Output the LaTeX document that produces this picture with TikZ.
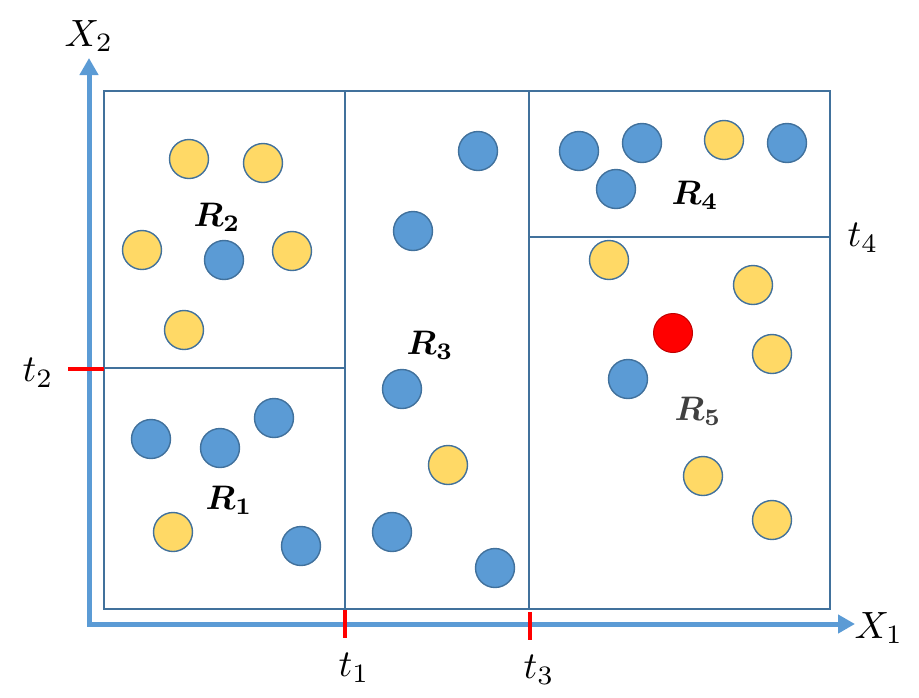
\documentclass[tikz,border=0pt]{standalone}
\usepackage{graphicx}
\usepackage{bm}
\usetikzlibrary{arrows.meta}
\definecolor{axisblue}{HTML}{5B9BD5}
\definecolor{edgeblue}{HTML}{41719C}
\definecolor{dotblue}{HTML}{5B9BD5}
\definecolor{dotyellow}{HTML}{FFD966}
\definecolor{dotred}{HTML}{FF0000}
\definecolor{edgered}{HTML}{C00000}
\tikzset{
  dot/.style={circle,minimum size=39pt,inner sep=0pt,line width=1.4pt,draw=edgeblue},
  bdot/.style={dot,fill=dotblue},
  ydot/.style={dot,fill=dotyellow},
  rdot/.style={dot,fill=dotred,draw=edgered,line width=1pt},
  region/.style={draw=edgeblue,line width=1.8pt},
  axisline/.style={draw=axisblue,line width=5pt,line join=miter,{Triangle[length=17pt,width=18pt]}-{Triangle[length=17pt,width=18pt]}},
  tick/.style={draw=dotred,line width=4pt},
  axlabel/.style={inner sep=0pt},
  rlabel/.style={inner sep=0pt},
}
\newcommand{\bigmath}[1]{\scalebox{3.8}{$#1$}}
\newcommand{\regmath}[2]{\scalebox{3.4}{\textcolor{#2}{$\bm{#1}$}}}
\begin{document}
\begin{tikzpicture}[x=1pt,y=-1pt]
\useasboundingbox (0,0) rectangle (919,697);
% regions
\draw[region] (104,91) rectangle (830,609);
\draw[region] (345,91) -- (345,609);
\draw[region] (529,91) -- (529,609);
\draw[region] (104,368) -- (345,368);
\draw[region] (529,237) -- (830,237);
% axes
\coordinate (ytip) at (89,58);
\coordinate (origin) at (89,624);
\coordinate (xtip) at (855,624);
\draw[axisline] (ytip) -- (origin) -- (xtip);
% ticks
\coordinate (t1a) at (345,610); \coordinate (t1b) at (345,638);
\coordinate (t3a) at (530,612); \coordinate (t3b) at (530,640);
\coordinate (t2a) at (68,369); \coordinate (t2b) at (104,369);
\draw[tick] (t1a) -- (t1b);
\draw[tick] (t3a) -- (t3b);
\draw[tick] (t2a) -- (t2b);
% axis labels
\node[axlabel] (lx2) at (89,36) {\bigmath{X_2}};
\node[axlabel] (lx1) at (879,628) {\bigmath{X_1}};
\node[axlabel] (lt2) at (38,373) {\bigmath{t_2}};
\node[axlabel] (lt1) at (354,668) {\bigmath{t_1}};
\node[axlabel] (lt3) at (539,670) {\bigmath{t_3}};
\node[axlabel] (lt4) at (863,238) {\bigmath{t_4}};
% R2
\node[ydot] (a1) at (189,159) {};
\node[ydot] (a2) at (263,163) {};
\node[ydot] (a3) at (142,250) {};
\node[bdot] (a4) at (224,260) {};
\node[ydot] (a5) at (292,251) {};
\node[ydot] (a6) at (184,330) {};
% R1
\node[bdot] (b1) at (151,439) {};
\node[bdot] (b2) at (220,448) {};
\node[bdot] (b3) at (274,418) {};
\node[bdot] (b4) at (301,546) {};
\node[ydot] (b5) at (173,532) {};
% R3
\node[bdot] (c1) at (478,151) {};
\node[bdot] (c2) at (413,231) {};
\node[bdot] (c3) at (402,389) {};
\node[ydot] (c4) at (448,465) {};
\node[bdot] (c5) at (392,532) {};
\node[bdot] (c6) at (495,568) {};
% R4
\node[bdot] (d1) at (579,151) {};
\node[bdot] (d2) at (642,143) {};
\node[ydot] (d3) at (724,140) {};
\node[bdot] (d4) at (787,143) {};
\node[bdot] (d5) at (616,189) {};
% R5
\node[ydot] (e1) at (609,260) {};
\node[ydot] (e2) at (753,285) {};
\node[ydot] (e3) at (772,354) {};
\node[rdot] (e4) at (673,333) {};
\node[bdot] (e5) at (628,379) {};
\node[ydot] (e6) at (703,476) {};
\node[ydot] (e7) at (772,520) {};
% region labels
\node[rlabel] (R1) at (229,500) {\regmath{R_1}{black}};
\node[rlabel] (R2) at (217,217) {\regmath{R_2}{black}};
\node[rlabel] (R3) at (430,345) {\regmath{R_3}{black}};
\node[rlabel] (R4) at (695,195) {\regmath{R_4}{black}};
\node[rlabel] (R5) at (698,411) {\regmath{R_5}{black!75}};
\end{tikzpicture}
\end{document}
